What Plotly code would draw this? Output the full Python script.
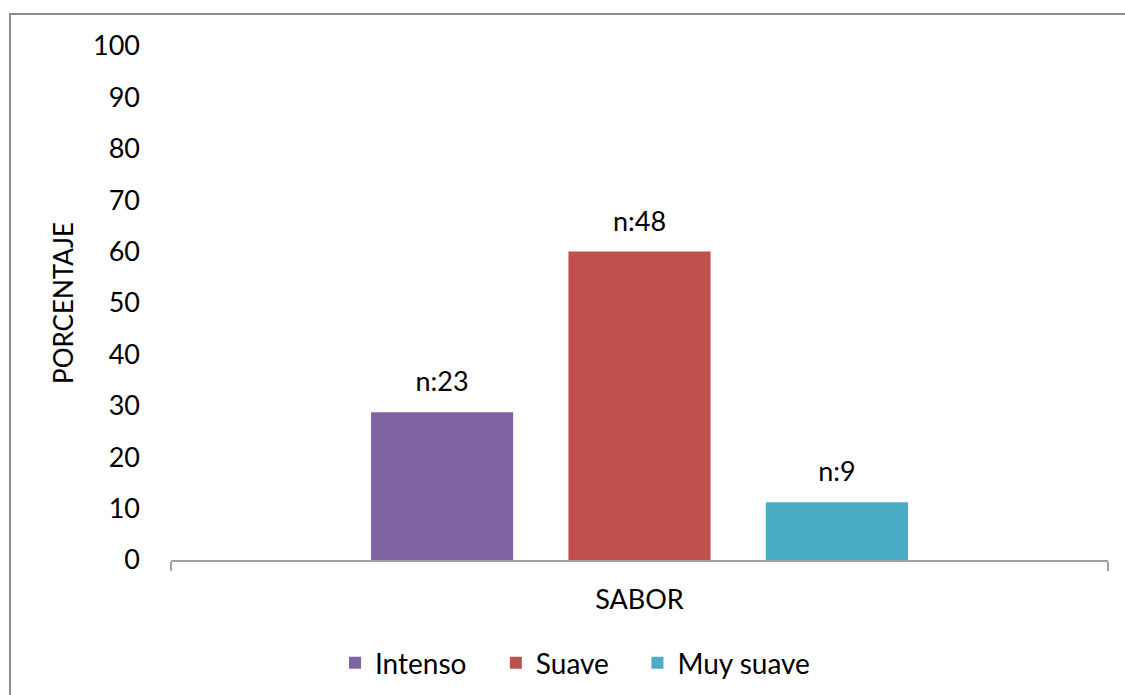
import plotly.graph_objects as go

# Survey results for flavour preference (percent of respondents)
categoria = ["SABOR"]
series = ["Intenso", "Suave", "Muy suave"]
porcentajes = [28.75, 60.0, 11.25]
etiquetas = ["n:23", "n:48", "n:9"]
colores = ["#8064A2", "#C0504D", "#4BACC6"]
y_ticks = [0, 10, 20, 30, 40, 50, 60, 70, 80, 90, 100]

FONT = "Lato"
SIZE = 27

# one legend box per series so the entries can be spaced freely
leyendas = ["legend", "legend2", "legend3"]
leyenda_x = [0.1750, 0.3467, 0.4978]

fig = go.Figure()
for nombre, valor, color, ley in zip(series, porcentajes, colores, leyendas):
    fig.add_trace(go.Bar(
        name=nombre,
        x=categoria,
        y=[valor],
        legend=ley,
        marker=dict(color=color, line=dict(width=0)),
    ))

# Count labels above each bar, grouped the same way as the bars
for nombre, valor, etiqueta in zip(series, porcentajes, etiquetas):
    fig.add_trace(go.Scatter(
        x=categoria,
        y=[valor],
        mode="markers+text",
        text=[etiqueta],
        textposition="top center",
        textfont=dict(size=SIZE, color="#000000", family=FONT),
        marker=dict(size=21, opacity=0),
        showlegend=False,
        hoverinfo="skip",
        cliponaxis=False,
    ))

legend_style = dict(
    orientation="h",
    xref="paper", xanchor="left",
    yref="container", y=0.046, yanchor="middle",
    font=dict(size=28, family=FONT),
    bgcolor="rgba(0,0,0,0)",
)

fig.update_layout(
    width=1125,
    height=695,
    barmode="group",
    bargap=0.368,
    bargroupgap=0.28,
    scattermode="group",
    scattergap=0.368,
    plot_bgcolor="white",
    paper_bgcolor="white",
    margin=dict(l=171, r=17, t=46, b=135, autoexpand=False),
    font=dict(family=FONT, size=SIZE, color="#000000"),
    showlegend=True,
    legend=dict(legend_style, x=leyenda_x[0]),
    legend2=dict(legend_style, x=leyenda_x[1]),
    legend3=dict(legend_style, x=leyenda_x[2]),
)

fig.update_yaxes(
    range=[0, 100],
    tickvals=y_ticks,
    showgrid=False,
    zeroline=False,
    showline=False,
    ticks="",
    ticklabelstandoff=30,
    automargin=False,
    tickfont=dict(size=SIZE, family=FONT),
    title=dict(text="PORCENTAJE", font=dict(size=26, family=FONT), standoff=11),
)

fig.update_xaxes(
    showgrid=False,
    showline=True,
    linecolor="#A0A0A0",
    linewidth=1.5,
    ticks="outside",
    tickson="boundaries",
    ticklen=9,
    tickcolor="#A0A0A0",
    tickwidth=1.5,
    automargin=False,
    tickfont=dict(size=SIZE, family=FONT),
    ticklabelstandoff=15,
)

# Outer chart border
fig.add_shape(
    type="rect", xref="paper", yref="paper",
    x0=-0.1718, x1=1.03, y0=-0.28, y1=1.0623,
    line=dict(color="#8C8C8C", width=2),
    fillcolor="rgba(0,0,0,0)",
    layer="below",
)

fig.write_html("out.html")
